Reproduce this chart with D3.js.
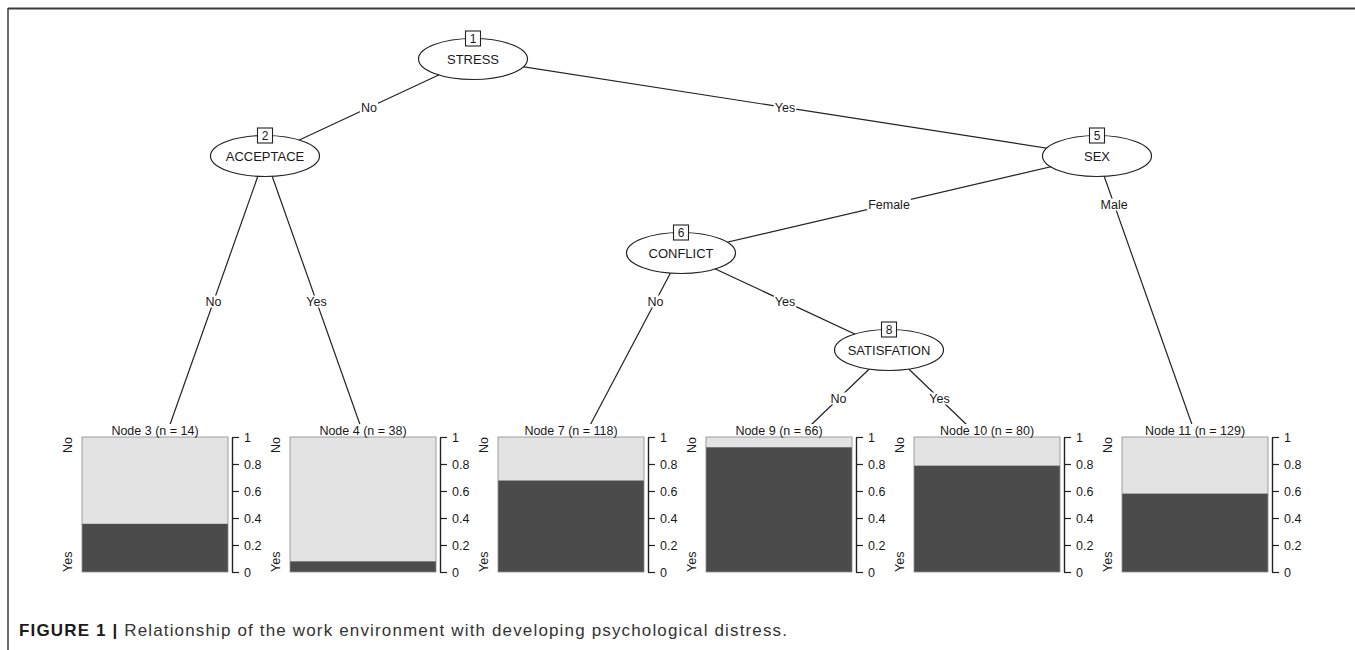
<!DOCTYPE html>
<html>
<head>
<meta charset="utf-8">
<script src="https://cdn.jsdelivr.net/npm/d3@7/dist/d3.min.js"></script>
<style>
  html, body { margin: 0; padding: 0; background: #fff; }
  svg { display: block; }
  text { font-family: "Liberation Sans", Arial, Helvetica, sans-serif; fill: #1a1a1a; }
</style>
</head>
<body>
<svg id="chart" width="1355" height="650"></svg>
<script>
// ---------------- data ----------------
const innerIds    = [1, 2, 5, 6, 8];
const innerLabels = ["STRESS", "ACCEPTACE", "SEX", "CONFLICT", "SATISFATION"];
const innerDepth  = [0, 1, 1, 2, 3];

const edgeFrom   = [1, 1, 2, 2, 5, 5, 6, 6, 8, 8];
const edgeTo     = [2, 5, 3, 4, 6, 11, 7, 8, 9, 10];
const edgeLabels = ["No", "Yes", "No", "Yes", "Female", "Male", "No", "Yes", "No", "Yes"];

const leafIds = [3, 4, 7, 9, 10, 11];
const leafN   = [14, 38, 118, 66, 80, 129];
const leafYes = [0.357, 0.079, 0.678, 0.924, 0.788, 0.581];   // proportion "Yes" (dark)

const responseLevels = ["No", "Yes"];
const tickValues = [0, 0.2, 0.4, 0.6, 0.8, 1];
const tickLabels = ["0", "0.2", "0.4", "0.6", "0.8", "1"];

const captionBold = "FIGURE 1 |";
const captionText = " Relationship of the work environment with developing psychological distress.";

// ---------------- layout ----------------
const svg = d3.select("#chart");
const W = 1355, H = 650;

const slot = d3.scaleLinear().domain([0, leafIds.length]).range([57, 57 + 208 * leafIds.length]);
const yDepth = d3.scaleLinear().domain([0, 3]).range([59, 350]);
const yBar = d3.scaleLinear().domain([0, 1]).range([572, 437]);
const leafAnchorY = 450;
const barOffset = 25, barWidth = 146, axisOffset = 175;

// children map
const children = {};
edgeFrom.forEach((p, i) => { (children[p] = children[p] || []).push(edgeTo[i]); });
function leafIndexMin(id) {
  const li = leafIds.indexOf(id);
  if (li >= 0) return li;
  return d3.min(children[id], leafIndexMin);
}
const pos = {};
innerIds.forEach((id, i) => {
  const right = children[id][1];
  pos[id] = { x: slot(leafIndexMin(right)), y: yDepth(innerDepth[i]) };
});
leafIds.forEach((id, i) => { pos[id] = { x: slot(i + 0.5), y: leafAnchorY, leaf: true }; });

// label level (fractional depth) per edge
const labelLevel = { "1-2": 0.5, "1-5": 0.5, "2-3": 2.5, "2-4": 2.5, "5-6": 1.5, "5-11": 1.5,
                     "6-7": 2.5, "6-8": 2.5, "8-9": 3.5, "8-10": 3.5 };

// ---------------- frame ----------------
svg.append("line").attr("x1", 8).attr("x2", W).attr("y1", 8.5).attr("y2", 8.5)
  .attr("stroke", "#3a3a3a").attr("stroke-width", 2);
svg.append("line").attr("x1", 8).attr("x2", 8).attr("y1", 8).attr("y2", H)
  .attr("stroke", "#3a3a3a").attr("stroke-width", 1.5);

// ---------------- edges ----------------
const gEdges = svg.append("g");
edgeFrom.forEach((p, i) => {
  const a = pos[p], b = pos[edgeTo[i]];
  gEdges.append("line")
    .attr("x1", a.x).attr("y1", a.y).attr("x2", b.x).attr("y2", b.y)
    .attr("stroke", "#222").attr("stroke-width", 1.2);
});

// ---------------- leaf panels ----------------
leafIds.forEach((id, i) => {
  const L = slot(i);
  const g = svg.append("g");
  g.append("rect").attr("x", L + 2).attr("y", 424).attr("width", 204).attr("height", 170).attr("fill", "#fff");
  const bx = L + barOffset;
  g.append("rect").attr("x", bx).attr("y", yBar(1)).attr("width", barWidth)
    .attr("height", yBar(leafYes[i]) - yBar(1)).attr("fill", "#e3e3e3");
  g.append("rect").attr("x", bx).attr("y", yBar(leafYes[i])).attr("width", barWidth)
    .attr("height", yBar(0) - yBar(leafYes[i])).attr("fill", "#4b4b4b");
  g.append("rect").attr("x", bx).attr("y", yBar(1)).attr("width", barWidth)
    .attr("height", yBar(0) - yBar(1)).attr("fill", "none").attr("stroke", "#8a8a8a").attr("stroke-width", 0.8);

  g.append("text").attr("x", bx + barWidth / 2).attr("y", 435).attr("text-anchor", "middle")
    .attr("font-size", 12.5).text(`Node ${id} (n = ${leafN[i]})`);

  g.append("text").attr("transform", `translate(${L + 15},${yBar(1)}) rotate(-90)`)
    .attr("text-anchor", "end").attr("font-size", 12.5).text(responseLevels[0]);
  g.append("text").attr("transform", `translate(${L + 15},${yBar(0)}) rotate(-90)`)
    .attr("text-anchor", "start").attr("font-size", 12.5).text(responseLevels[1]);

  const ax = g.append("g").attr("transform", `translate(${L + axisOffset},0)`)
    .call(d3.axisRight(yBar).tickValues(tickValues).tickFormat((d, k) => tickLabels[k])
      .tickSizeInner(7).tickSizeOuter(0).tickPadding(5));
  ax.select(".domain").attr("stroke", "#222").attr("stroke-width", 1.4);
  ax.selectAll(".tick line").attr("stroke", "#222").attr("stroke-width", 1.2);
  ax.selectAll(".tick text").attr("font-size", 12.5).attr("font-family", "Liberation Sans, Arial, sans-serif").attr("fill", "#1a1a1a");
});

// ---------------- edge labels ----------------
edgeFrom.forEach((p, i) => {
  const a = pos[p], b = pos[edgeTo[i]];
  const ly = yDepth(labelLevel[`${p}-${edgeTo[i]}`]);
  const t = (ly - a.y) / (b.y - a.y);
  const lx = a.x + t * (b.x - a.x);
  const txt = svg.append("text").attr("x", lx).attr("y", ly).attr("text-anchor", "middle")
    .attr("dominant-baseline", "central").attr("font-size", 12.5).text(edgeLabels[i]);
  const bb = txt.node().getBBox();
  svg.insert("rect", () => txt.node()).attr("x", bb.x - 1).attr("y", bb.y + 1)
    .attr("width", bb.width + 2).attr("height", bb.height - 2).attr("fill", "#fff");
});

// ---------------- inner nodes ----------------
innerIds.forEach((id, i) => {
  const p = pos[id];
  const rx = 54.5, ry = 20.5;
  const g = svg.append("g");
  g.append("ellipse").attr("cx", p.x).attr("cy", p.y).attr("rx", rx).attr("ry", ry)
    .attr("fill", "#fff").attr("stroke", "#222").attr("stroke-width", 1.2);
  g.append("text").attr("x", p.x).attr("y", p.y).attr("text-anchor", "middle")
    .attr("dominant-baseline", "central").attr("font-size", 13).text(innerLabels[i]);
  g.append("rect").attr("x", p.x - 7.5).attr("y", p.y - ry - 7.5).attr("width", 15).attr("height", 15)
    .attr("fill", "#fff").attr("stroke", "#222").attr("stroke-width", 1.1);
  g.append("text").attr("x", p.x).attr("y", p.y - ry).attr("text-anchor", "middle")
    .attr("dominant-baseline", "central").attr("font-size", 12).text(id);
});

// ---------------- caption ----------------
const cap = svg.append("text").attr("x", 19).attr("y", 636).attr("font-size", 17);
cap.append("tspan").attr("font-weight", "bold").text(captionBold);
cap.append("tspan").attr("fill", "#333").text(captionText);
const natural = cap.node().getComputedTextLength();
if (Math.abs(natural - 768) > 4) cap.attr("textLength", 768).attr("lengthAdjust", "spacing");
</script>
</body>
</html>
